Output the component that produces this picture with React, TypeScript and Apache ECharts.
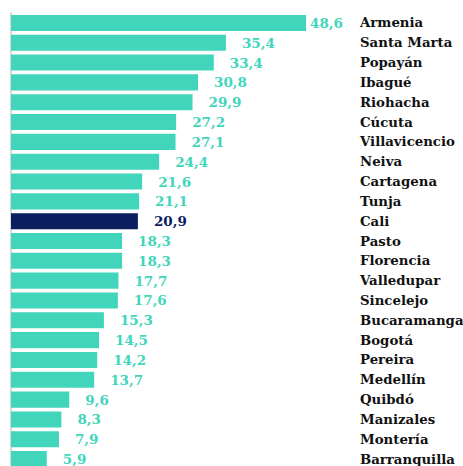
import React, { useEffect, useRef } from "react";
import * as echarts from "echarts";

const cities = [
  "Armenia", "Santa Marta", "Popayán", "Ibagué", "Riohacha", "Cúcuta",
  "Villavicencio", "Neiva", "Cartagena", "Tunja", "Cali", "Pasto",
  "Florencia", "Valledupar", "Sincelejo", "Bucaramanga", "Bogotá",
  "Pereira", "Medellín", "Quibdó", "Manizales", "Montería", "Barranquilla",
];
const values = [
  48.6, 35.4, 33.4, 30.8, 29.9, 27.2, 27.1, 24.4, 21.6, 21.1, 20.9, 18.3,
  18.3, 17.7, 17.6, 15.3, 14.5, 14.2, 13.7, 9.6, 8.3, 7.9, 5.9,
];
const highlight = "Cali";

const TEAL = "#41d6bb";
const NAVY = "#0b1f5e";
const FONT = "DejaVu Serif";

export default function App() {
  const ref = useRef<HTMLDivElement>(null);
  useEffect(() => {
    if (!ref.current) return;
    const chart = echarts.init(ref.current, undefined, { renderer: "svg" });
    const data = values.map((v, i) => {
      const isHi = cities[i] === highlight;
      const item: any = {
        value: v,
        itemStyle: { color: isHi ? NAVY : TEAL },
        label: { color: isHi ? NAVY : TEAL },
      };
      if (i === 0) item.label.distance = 4;
      return item;
    });
    chart.setOption({
      animation: false,
      grid: {
        left: 11,
        right: 112,
        top: 13,
        bottom: -3,
        containLabel: false,
        outerBoundsMode: "none",
      },
      xAxis: {
        type: "value",
        min: 0,
        max: 56,
        show: false,
      },
      yAxis: [
        {
          type: "category",
          data: cities,
          inverse: true,
          position: "left",
          axisLine: { show: true, lineStyle: { color: "#d9d9d9", width: 2 } },
          axisTick: { show: false },
          axisLabel: { show: false },
        },
        {
          type: "category",
          data: cities,
          inverse: true,
          position: "right",
          axisLine: { show: false },
          axisTick: { show: false },
          axisLabel: {
            show: true,
            align: "left",
            margin: 9,
            color: "#111111",
            fontFamily: FONT,
            fontWeight: "bold",
            fontSize: 13.3,
          },
        },
      ],
      series: [
        {
          type: "bar",
          data,
          barCategoryGap: "19%",
          label: {
            show: true,
            position: "right",
            distance: 16,
            fontFamily: FONT,
            fontWeight: "bold",
            fontSize: 13.5,
            formatter: (p: any) => p.value.toFixed(1).replace(".", ","),
          },
        },
      ],
    });
    return () => chart.dispose();
  }, []);
  return (
    <div
      ref={ref}
      style={{ position: "absolute", left: 0, top: 0, width: 463, height: 466 }}
    />
  );
}
